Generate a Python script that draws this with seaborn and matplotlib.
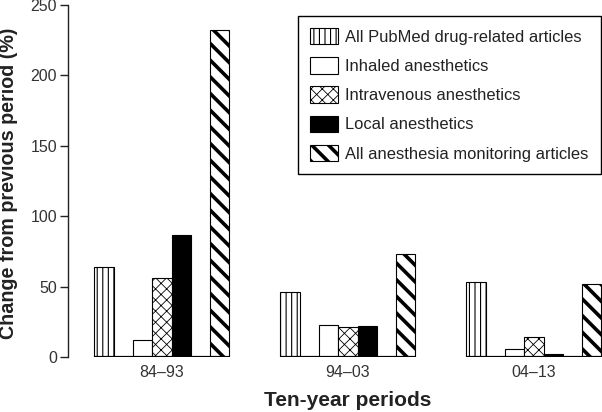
import matplotlib
matplotlib.use("Agg")
import pandas as pd
import seaborn as sns
import matplotlib.pyplot as plt
from matplotlib.patches import Patch

# Data
periods = ["84–93", "94–03", "04–13"]
series = ["All PubMed drug-related articles", "Inhaled anesthetics",
          "Intravenous anesthetics", "Local anesthetics",
          "All anesthesia monitoring articles"]
pubmed = [64, 46, 53]
inhaled = [12, 23, 6]
intravenous = [56, 21, 14]
local = [87, 22, 2]
monitoring = [232, 73, 52]

values = {series[0]: pubmed, series[1]: inhaled, series[2]: intravenous,
          series[3]: local, series[4]: monitoring}

# empty slots between the bars of a group
gap_a, gap_b = "_gap_a", "_gap_b"
hue_order = [series[0], gap_a, series[1], series[2], series[3], gap_b, series[4]]

rows = []
for name in hue_order:
    vals = values.get(name, [0] * len(periods))
    for p, v in zip(periods, vals):
        rows.append({"period": p, "series": name, "value": v})
df = pd.DataFrame(rows)

fill = {series[0]: "white", series[1]: "white", series[2]: "white",
        series[3]: "black", series[4]: "white", gap_a: "white", gap_b: "white"}
hatch = {series[0]: "|||", series[1]: "", series[2]: "xxx",
         series[3]: "", series[4]: "\\\\", gap_a: "", gap_b: ""}
hatch_lw = {series[0]: 0.8, series[1]: 0.8, series[2]: 0.6,
            series[3]: 0.8, series[4]: 2.6, gap_a: 0.8, gap_b: 0.8}

sns.set_style("ticks")
plt.rcParams['font.family'] = ['Liberation Sans', 'DejaVu Sans']
plt.rcParams['hatch.color'] = 'black'

fig = plt.figure(figsize=(6.02, 4.12), dpi=100)
ax = fig.add_axes([68 / 602, 55 / 412, 534 / 602, 352 / 412])

sns.barplot(data=df, x="period", y="value", hue="series", hue_order=hue_order,
            order=periods, width=0.726, dodge=True, ax=ax, legend=False,
            errorbar=None)

for container, name in zip(ax.containers, hue_order):
    for bar in container:
        bar.set_facecolor(fill[name])
        bar.set_edgecolor("black")
        bar.set_linewidth(0.8)
        bar.set_hatch(hatch[name])
        if hasattr(bar, "set_hatch_linewidth"):
            bar.set_hatch_linewidth(hatch_lw[name])

# thick baseline under each group
for i in range(len(periods)):
    bars = [c[i] for c in ax.containers]
    x0 = min(b.get_x() for b in bars)
    x1 = max(b.get_x() + b.get_width() for b in bars)
    ax.hlines(0, x0, x1, color="black", linewidth=1.6, zorder=5)

ax.set_xlim(-0.505, 2.366)
ax.set_ylim(0, 250)
ax.set_yticks([0, 50, 100, 150, 200, 250])
sns.despine(ax=ax, bottom=True)
ax.spines["left"].set_color("#222222")
ax.spines["left"].set_linewidth(1.0)
ax.tick_params(axis="y", length=6, width=1, color="#222222", pad=2,
               labelsize=11.5, labelcolor="#333333")
ax.tick_params(axis="x", length=0, pad=6, labelsize=11.5, labelcolor="#333333")

ax.set_xlabel("Ten-year periods", fontsize=15, fontweight="bold", color="#222222")
ax.set_ylabel("Change from previous period (%)", fontsize=14.2, fontweight="bold",
              color="#222222")
ax.xaxis.set_label_coords(0.524, -0.097)
ax.yaxis.set_label_coords(-0.094, 0.493)

handles = []
for name in series:
    h = Patch(facecolor=fill[name], edgecolor="black", hatch=hatch[name],
              linewidth=0.8, label=name)
    handles.append(h)
leg = ax.legend(handles=handles, loc="upper right", bbox_to_anchor=(0.998, 0.97),
                borderaxespad=0, fontsize=11.9, frameon=True, fancybox=False,
                framealpha=1, edgecolor="black", handlelength=1.65,
                handleheight=1.15, labelspacing=0.75, handletextpad=0.45,
                borderpad=0.75)
leg.get_frame().set_linewidth(1.0)
for t in leg.get_texts():
    t.set_color("#222222")
for p, name in zip(leg.get_patches(), series):
    if hasattr(p, "set_hatch_linewidth"):
        p.set_hatch_linewidth(hatch_lw[name])

fig.savefig("out.png", dpi=100)
